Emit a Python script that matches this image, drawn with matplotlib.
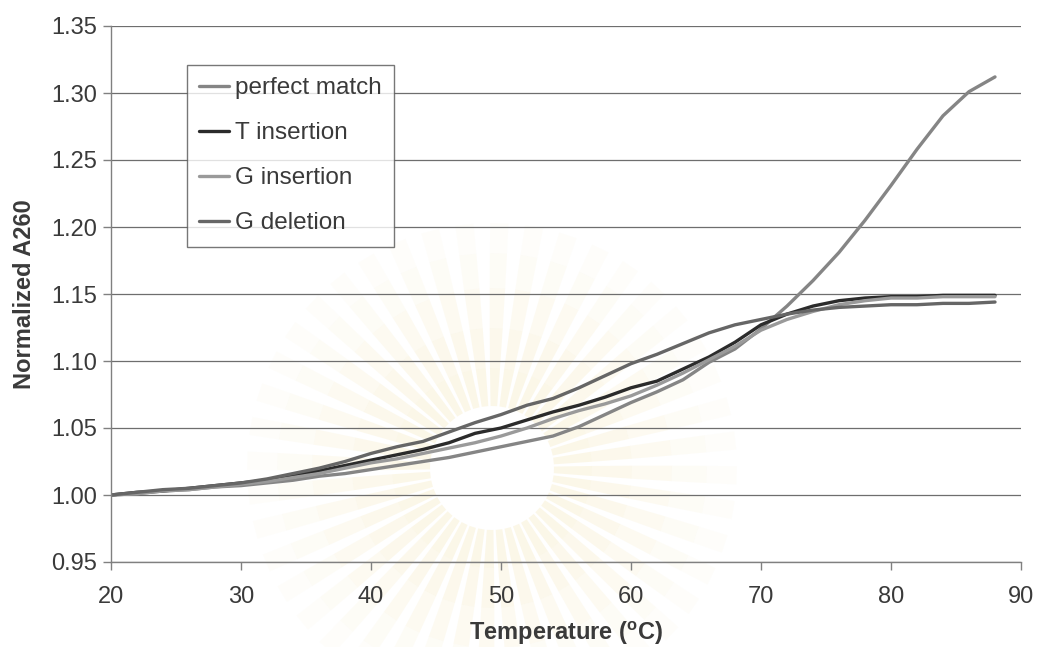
import numpy as np
import matplotlib
matplotlib.use("Agg")
import matplotlib.pyplot as plt
from matplotlib.patches import Polygon

plt.rcParams["font.family"] = ["Liberation Sans", "DejaVu Sans"]
plt.rcParams["mathtext.fontset"] = "custom"
plt.rcParams["mathtext.rm"] = "Liberation Sans:bold"
plt.rcParams["mathtext.bf"] = "Liberation Sans:bold"

# Melting curves: normalized absorbance at 260 nm vs temperature
temperature = [20, 22, 24, 26, 28, 30, 32, 34, 36, 38, 40, 42, 44, 46, 48, 50, 52, 54,
               56, 58, 60, 62, 64, 66, 68, 70, 72, 74, 76, 78, 80, 82, 84, 86, 88]

perfect_match = [1.000, 1.001, 1.003, 1.004, 1.006, 1.007, 1.009, 1.011, 1.014, 1.016,
                 1.019, 1.022, 1.025, 1.028, 1.032, 1.036, 1.040, 1.044, 1.051, 1.060,
                 1.069, 1.077, 1.086, 1.099, 1.109, 1.124, 1.141, 1.160, 1.181, 1.205,
                 1.231, 1.258, 1.283, 1.301, 1.312]

t_insertion = [1.000, 1.002, 1.003, 1.005, 1.007, 1.009, 1.011, 1.015, 1.018, 1.022,
               1.026, 1.030, 1.034, 1.039, 1.046, 1.050, 1.056, 1.062, 1.067, 1.073,
               1.080, 1.085, 1.094, 1.103, 1.114, 1.127, 1.135, 1.141, 1.145, 1.147,
               1.148, 1.148, 1.149, 1.149, 1.149]

g_insertion = [1.000, 1.001, 1.003, 1.004, 1.006, 1.008, 1.010, 1.013, 1.016, 1.020,
               1.024, 1.027, 1.031, 1.035, 1.039, 1.044, 1.050, 1.057, 1.063, 1.068,
               1.074, 1.082, 1.091, 1.101, 1.111, 1.123, 1.131, 1.137, 1.142, 1.145,
               1.147, 1.147, 1.148, 1.148, 1.148]

g_deletion = [1.000, 1.002, 1.004, 1.005, 1.007, 1.009, 1.012, 1.016, 1.020, 1.025,
              1.031, 1.036, 1.040, 1.047, 1.054, 1.060, 1.067, 1.072, 1.080, 1.089,
              1.098, 1.105, 1.113, 1.121, 1.127, 1.131, 1.135, 1.138, 1.140, 1.141,
              1.142, 1.142, 1.143, 1.143, 1.144]

series_names = ["perfect match", "T insertion", "G insertion", "G deletion"]
series_values = [perfect_match, t_insertion, g_insertion, g_deletion]
series_colors = ["#858585", "#2b2b2b", "#9a9a9a", "#666666"]

x_ticks = [20, 30, 40, 50, 60, 70, 80, 90]
y_ticks = [0.95, 1.00, 1.05, 1.10, 1.15, 1.20, 1.25, 1.30, 1.35]

W, H = 1043, 647
fig = plt.figure(figsize=(W / 100, H / 100), dpi=100)
fig.patch.set_facecolor("white")

# faint sunburst emblem behind the plot
bg = fig.add_axes([0, 0, 1, 1], zorder=0)
bg.set_xlim(0, W)
bg.set_ylim(H, 0)
bg.axis("off")
cx, cy = 492, 468
n_rays = 44
for k in range(n_rays):
    ang = 2 * np.pi * k / n_rays + 0.03
    half = np.pi / n_rays * 0.75
    for r0, r1, a in [(62, 100, 0.22), (100, 140, 0.18), (140, 180, 0.13),
                      (180, 215, 0.08), (215, 245, 0.04)]:
        w0 = half * (1 - 0.3 * (r0 - 62) / 183)
        w1 = half * (1 - 0.3 * (r1 - 62) / 183)
        pts = [(cx + r0 * np.cos(ang - w0), cy + r0 * np.sin(ang - w0)),
               (cx + r1 * np.cos(ang - w1), cy + r1 * np.sin(ang - w1)),
               (cx + r1 * np.cos(ang + w1), cy + r1 * np.sin(ang + w1)),
               (cx + r0 * np.cos(ang + w0), cy + r0 * np.sin(ang + w0))]
        bg.add_patch(Polygon(pts, closed=True, facecolor="#f0dc98",
                             edgecolor="none", alpha=a))

ax = fig.add_axes([111 / W, 1 - 562 / H, 910 / W, 536 / H], zorder=1)
ax.patch.set_alpha(0)

for name, vals, col in zip(series_names, series_values, series_colors):
    ax.plot(temperature, vals, color=col, lw=2.4, label=name,
            solid_capstyle="round", solid_joinstyle="round")

ax.set_xlim(20, 90)
ax.set_ylim(0.95, 1.35)
ax.set_xticks(x_ticks)
ax.set_yticks(y_ticks)
ax.set_yticklabels([f"{v:.2f}" for v in y_ticks])
ax.yaxis.grid(True, color="#6e6e6e", lw=0.9)
ax.set_axisbelow(True)

for s in ["top", "right"]:
    ax.spines[s].set_visible(False)
for s in ["left", "bottom"]:
    ax.spines[s].set_color("#808080")
    ax.spines[s].set_linewidth(1.0)

ax.tick_params(axis="both", direction="out", colors="#808080", length=6,
               width=1.0, labelsize=17, labelcolor="#3a3a3a")
ax.tick_params(axis="x", pad=11)
ax.tick_params(axis="y", pad=4)

ax.set_xlabel(r"Temperature ($\mathregular{^o}$C)", fontsize=17, fontweight="bold",
              color="#3a3a3a", labelpad=9)
ax.set_ylabel("Normalized A260", fontsize=17, fontweight="bold",
              color="#3a3a3a", labelpad=11)

leg = ax.legend(loc="upper left", bbox_to_anchor=((186.7 - 111) / 910, (562 - 65) / 536),
                fontsize=17.5, frameon=True, fancybox=False, handlelength=1.25,
                handletextpad=0.25, labelspacing=0.95, borderpad=0.5, borderaxespad=0)
leg.get_frame().set_edgecolor("#555555")
leg.get_frame().set_linewidth(1.0)
for t in leg.get_texts():
    t.set_color("#3a3a3a")

fig.savefig("out.png", dpi=100, facecolor="white")
